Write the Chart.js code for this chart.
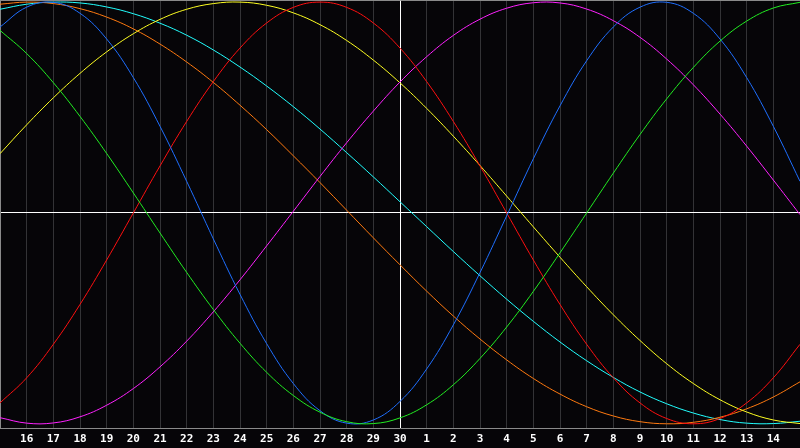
<!DOCTYPE html>
<html>
<head>
<meta charset="utf-8">
<script src="https://cdn.jsdelivr.net/npm/chart.js@4/dist/chart.umd.min.js"></script>
<style>
  html, body { margin: 0; padding: 0; background: #060508; }
  #wrap { width: 800px; height: 448px; }
</style>
</head>
<body>
<div id="wrap"><canvas id="bioChart"></canvas></div>
<script>
// days shown on the axis (15th to the 15th of next month, today = 30)
const days = ["15","16","17","18","19","20","21","22","23","24","25","26","27","28","29","30",
              "1","2","3","4","5","6","7","8","9","10","11","12","13","14","15"];

// curve values, -100..100
const green   = [86.6,75.6,61.8,45.8,28.2,9.5,-9.5,-28.2,-45.8,-61.8,-75.6,-86.6,-94.5,-99.0,-99.9,-97.2,-91.0,-81.5,-69.0,-54.1,-37.2,-18.9,0,18.9,37.2,54.1,69.0,81.5,91.0,97.2,99.9];
const blue    = [88.2,97.6,99.9,94.7,82.5,64.2,41.1,15.0,-12.3,-38.6,-62.0,-80.9,-93.8,-99.7,-98.2,-89.4,-74.0,-53.1,-28.3,-1.4,25.7,50.8,72.2,88.2,97.6,99.9,94.7,82.5,64.2,41.1,15.0];
const red     = [-90.1,-78.2,-62.3,-43.4,-22.3,0,22.3,43.4,62.3,78.2,90.1,97.5,100,97.5,90.1,78.2,62.3,43.4,22.3,0,-22.3,-43.4,-62.3,-78.2,-90.1,-97.5,-100,-97.5,-90.1,-78.2,-62.3];
const magenta = [-97.1,-99.7,-99.6,-96.7,-91.2,-83.3,-73.0,-60.8,-46.9,-31.7,-15.6,0.8,17.3,33.3,48.3,62.1,74.1,84.2,91.9,97.1,99.7,99.6,96.7,91.2,83.3,73.0,60.8,46.9,31.7,15.6,-0.8];
const yellow  = [28.1,41.8,54.6,66.2,76.4,85.0,91.8,96.6,99.3,100,98.5,94.9,89.3,81.8,72.5,61.7,49.6,36.4,22.5,8.0,-6.6,-21.0,-35.0,-48.3,-60.5,-71.5,-80.9,-88.6,-94.4,-98.2,-99.9];
const orange  = [99.0,100,99.3,96.9,92.9,87.3,80.1,71.6,61.9,51.1,39.5,27.1,14.4,1.3,-11.8,-24.6,-37.1,-48.9,-59.8,-69.7,-78.5,-85.9,-91.9,-96.3,-99.0,-100,-99.3,-96.9,-92.9,-87.3,-80.1];
const cyan    = [96.6,99.0,100,99.6,97.7,94.5,90.0,84.3,77.3,69.2,60.2,50.4,39.8,28.6,17.1,5.3,-6.5,-18.3,-29.8,-40.9,-51.4,-61.2,-70.1,-78.0,-84.9,-90.5,-94.9,-98.0,-99.7,-99.9,-98.8];

const todayIndex = 15;

function line(data, color) {
  return {
    data: data,
    borderColor: color,
    borderWidth: 1,
    pointRadius: 0,
    tension: 0.4,
    fill: false
  };
}

new Chart(document.getElementById("bioChart"), {
  type: "line",
  data: {
    labels: days,
    datasets: [
      line(green, "#22ee22"),
      line(blue, "#1f6fff"),
      line(red, "#ff1010"),
      line(magenta, "#ff22ff"),
      line(yellow, "#ffff22"),
      line(orange, "#ff7a10"),
      line(cyan, "#22ffff")
    ]
  },
  options: {
    responsive: true,
    maintainAspectRatio: false,
    animation: false,
    layout: { padding: 0 },
    plugins: {
      legend: { display: false },
      tooltip: { enabled: false }
    },
    scales: {
      x: {
        offset: false,
        border: { display: true, color: "#8a8a8a" },
        grid: {
          drawTicks: false,
          color: (c) => c.index === todayIndex ? "#ffffff" : "#333336"
        },
        ticks: {
          autoSkip: false,
          maxRotation: 0,
          padding: 5,
          color: "#ffffff",
          font: { family: "DejaVu Sans Mono", size: 11, weight: "bold" },
          callback: function (val, i) {
            return (i === 0 || i === days.length - 1) ? "" : days[i];
          }
        },
        afterFit: (s) => {
          s.height = 20;
          s.paddingLeft = 0;
          s.paddingRight = 0;
        }
      },
      y: {
        min: -102,
        max: 101,
        border: { display: true, color: "#8a8a8a" },
        grid: {
          drawTicks: false,
          color: (c) => c.tick.value === 0 ? "#ffffff" : "#8a8a8a"
        },
        ticks: { display: false },
        afterBuildTicks: (s) => { s.ticks = [{ value: 0 }, { value: 101 }]; },
        afterFit: (s) => {
          s.width = 0;
          s.paddingTop = 0;
          s.paddingBottom = 0;
        }
      }
    }
  }
});
</script>
</body>
</html>
